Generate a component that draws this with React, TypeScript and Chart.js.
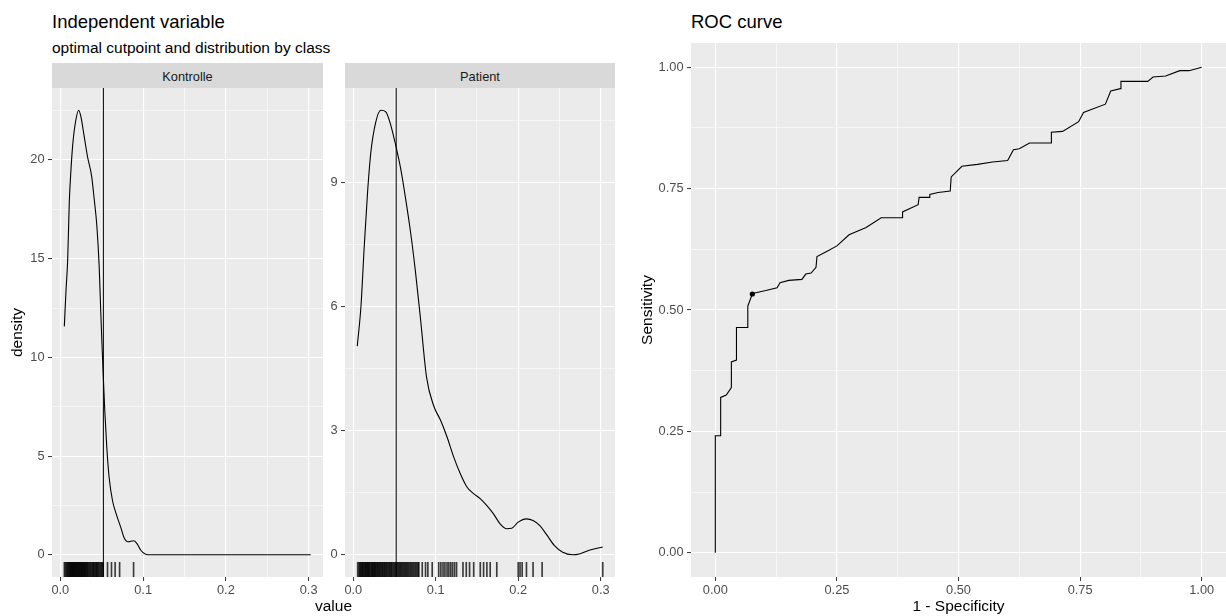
import React, { useEffect, useRef } from 'react';
import { Chart, registerables } from 'chart.js';

Chart.register(...registerables);

const FONT = '"Liberation Sans", Arial, Helvetica, sans-serif';

// ---------------- data ----------------
const classNames = ['Kontrolle', 'Patient'];
const cutpoint = 0.052;

const kontrolleX = [0.0048, 0.0069, 0.0089, 0.0108, 0.0129, 0.0149, 0.0177, 0.0221, 0.0249, 0.0289, 0.0329, 0.0377, 0.0409, 0.0441, 0.0469, 0.0489, 0.0501, 0.0515, 0.0537, 0.0561, 0.0589, 0.063, 0.0669, 0.073, 0.0769, 0.0817, 0.0889, 0.093, 0.097, 0.103, 0.11, 0.15, 0.2, 0.25, 0.3025];
const kontrolleDensity = [11.57, 13.44, 14.97, 17.86, 19.55, 20.74, 21.76, 22.52, 22.18, 21.17, 20.15, 19.21, 18.02, 16.67, 14.63, 12.25, 10.9, 9.4, 7.3, 5.46, 3.94, 2.75, 2.15, 1.39, 0.88, 0.66, 0.71, 0.54, 0.24, 0.03, 0, 0, 0, 0, 0];

const patientX = [0.0048, 0.0093, 0.0133, 0.0173, 0.0213, 0.0273, 0.0334, 0.0394, 0.0454, 0.0514, 0.0575, 0.0635, 0.0695, 0.0755, 0.0816, 0.0888, 0.0976, 0.1057, 0.1137, 0.1217, 0.1298, 0.1378, 0.1458, 0.1539, 0.162, 0.17, 0.178, 0.186, 0.192, 0.2, 0.21, 0.218, 0.226, 0.234, 0.244, 0.254, 0.266, 0.274, 0.286, 0.3025];
const patientDensity = [5.05, 6.02, 7.48, 8.78, 9.75, 10.48, 10.76, 10.72, 10.4, 9.91, 9.34, 8.61, 7.8, 6.83, 5.69, 4.3, 3.6, 3.26, 2.85, 2.37, 1.96, 1.64, 1.48, 1.36, 1.19, 0.99, 0.75, 0.63, 0.64, 0.79, 0.87, 0.83, 0.71, 0.5, 0.22, 0.06, 0.0, 0.02, 0.11, 0.19];

const kontrolleRug = [0.0048, 0.0061, 0.0074, 0.0082, 0.0093, 0.0101, 0.0111, 0.0117, 0.0126, 0.0132, 0.0139, 0.0147, 0.0151, 0.0159, 0.0166, 0.0172, 0.0178, 0.0187, 0.0192, 0.0201, 0.0207, 0.0215, 0.0221, 0.0228, 0.0237, 0.0243, 0.0252, 0.0258, 0.0267, 0.0272, 0.0282, 0.0288, 0.0296, 0.0306, 0.0312, 0.0323, 0.033, 0.0341, 0.0351, 0.0362, 0.0372, 0.0385, 0.0394, 0.0404, 0.0411, 0.0425, 0.0432, 0.0442, 0.0451, 0.0462, 0.0472, 0.0487, 0.0496, 0.0508, 0.0518, 0.057, 0.0618, 0.0662, 0.0716, 0.0885];
const patientRug = [0.0053, 0.0068, 0.0079, 0.0088, 0.0097, 0.0106, 0.0114, 0.0121, 0.0133, 0.0142, 0.0149, 0.0158, 0.0166, 0.0175, 0.0183, 0.0191, 0.0199, 0.0212, 0.0221, 0.0229, 0.0238, 0.0247, 0.0256, 0.0263, 0.0271, 0.0284, 0.0292, 0.0301, 0.0312, 0.0322, 0.0331, 0.0343, 0.0352, 0.0361, 0.0373, 0.0382, 0.0394, 0.0403, 0.0415, 0.0426, 0.0438, 0.0447, 0.0459, 0.0468, 0.0481, 0.0493, 0.0505, 0.0517, 0.0526, 0.0538, 0.0551, 0.0563, 0.0574, 0.0586, 0.0598, 0.0611, 0.0623, 0.0636, 0.0648, 0.0661, 0.0674, 0.0688, 0.0701, 0.0715, 0.0729, 0.0743, 0.0758, 0.0772, 0.0786, 0.0795, 0.0836, 0.0876, 0.0904, 0.0957, 0.1036, 0.1062, 0.1088, 0.1111, 0.1137, 0.1159, 0.1182, 0.1204, 0.1228, 0.1252, 0.133, 0.137, 0.141, 0.146, 0.154, 0.158, 0.162, 0.166, 0.174, 0.2, 0.2022, 0.2048, 0.21, 0.218, 0.229, 0.3025];

const rocFpr = [0, 0, 0.011, 0.011, 0.0225, 0.033, 0.033, 0.0435, 0.0435, 0.0668, 0.0668, 0.0761, 0.081, 0.104, 0.127, 0.133, 0.151, 0.178, 0.186, 0.197, 0.207, 0.209, 0.228, 0.25, 0.275, 0.31, 0.341, 0.384, 0.385, 0.417, 0.419, 0.44, 0.441, 0.458, 0.483, 0.485, 0.507, 0.539, 0.57, 0.601, 0.613, 0.625, 0.646, 0.691, 0.691, 0.714, 0.747, 0.757, 0.802, 0.813, 0.833, 0.834, 0.889, 0.9, 0.926, 0.955, 0.974, 1.0];
const rocTpr = [0, 0.241, 0.241, 0.32, 0.325, 0.34, 0.393, 0.397, 0.464, 0.464, 0.508, 0.533, 0.535, 0.54, 0.546, 0.556, 0.561, 0.563, 0.574, 0.576, 0.588, 0.61, 0.62, 0.632, 0.655, 0.67, 0.69, 0.69, 0.702, 0.717, 0.732, 0.732, 0.738, 0.742, 0.745, 0.774, 0.796, 0.8, 0.805, 0.808, 0.83, 0.832, 0.844, 0.844, 0.866, 0.868, 0.888, 0.907, 0.924, 0.951, 0.956, 0.971, 0.971, 0.98, 0.982, 0.993, 0.993, 1.0];
const optimalFpr = 0.0761;
const optimalTpr = 0.533;

const valueTicks = [0, 0.1, 0.2, 0.3];
const valueMinorTicks = [0.05, 0.15, 0.25];
const kontrolleTicks = [0, 5, 10, 15, 20];
const kontrolleMinorTicks = [2.5, 7.5, 12.5, 17.5, 22.5];
const patientTicks = [0, 3, 6, 9];
const patientMinorTicks = [1.5, 4.5, 7.5, 10.5];
const rocTicks = [0, 0.25, 0.5, 0.75, 1];
const rocMinorTicks = [0.125, 0.375, 0.625, 0.875];

// ---------------- helpers ----------------
const expand = (lo: number, hi: number): [number, number] => [lo - 0.05 * (hi - lo), hi + 0.05 * (hi - lo)];

const allValues = [...kontrolleX, ...patientX, ...kontrolleRug, ...patientRug];
const [xMin, xMax] = expand(Math.min(...allValues), Math.max(...allValues));
const [rocMin, rocMax] = expand(0, 1);

const panelBg = {
  id: 'panelBg',
  beforeDraw(chart: any) {
    const { ctx, chartArea: a } = chart;
    ctx.save();
    ctx.fillStyle = '#EBEBEB';
    ctx.fillRect(a.left, a.top, a.right - a.left, a.bottom - a.top);
    ctx.restore();
  },
};

type AxisSpec = {
  min: number;
  max: number;
  major: number[];
  minor: number[];
  digits: number;
  size: number;
  title?: string;
};

function axis(spec: AxisSpec, horizontal: boolean) {
  const isMajor = (v: number) => spec.major.some((m) => Math.abs(m - v) < 1e-9);
  return {
    type: 'linear',
    min: spec.min,
    max: spec.max,
    bounds: 'data',
    offset: false,
    afterBuildTicks: (scale: any) => {
      scale.ticks = [...spec.major, ...spec.minor].sort((a, b) => a - b).map((v) => ({ value: v }));
    },
    afterFit: (scale: any) => {
      if (horizontal) {
        scale.height = spec.size;
        scale.paddingLeft = 0;
        scale.paddingRight = 0;
      } else {
        scale.width = spec.size;
        scale.paddingTop = 0;
        scale.paddingBottom = 0;
      }
    },
    ticks: {
      autoSkip: false,
      maxRotation: 0,
      minRotation: 0,
      padding: horizontal ? 2 : 3.5,
      color: '#4D4D4D',
      font: { size: 12.8, family: FONT },
      callback: (v: number) => (isMajor(v) ? Number(v).toFixed(spec.digits) : ''),
    },
    grid: {
      color: '#FFFFFF',
      lineWidth: (c: any) => (c.tick && isMajor(c.tick.value) ? 1.1 : 0.55),
      drawTicks: true,
      tickLength: 4,
      tickWidth: 1,
      tickColor: (c: any) => (c.tick && isMajor(c.tick.value) ? '#333333' : 'rgba(0,0,0,0)'),
      offset: false,
    },
    border: { display: false },
    title: spec.title
      ? {
          display: true,
          text: spec.title,
          color: '#000000',
          font: { size: 15.5, family: FONT },
          padding: horizontal ? { top: 0, bottom: 0 } : { top: 8, bottom: 0 },
        }
      : { display: false },
  };
}

const baseOptions = {
  responsive: false,
  animation: false,
  events: [],
  layout: { padding: 0 },
  plugins: { legend: { display: false }, tooltip: { enabled: false }, title: { display: false } },
};

function densityConfig(
  xs: number[],
  ys: number[],
  rug: number[],
  yMajor: number[],
  yMinor: number[],
  yAxisWidth: number,
  yTitle?: string
): any {
  const [yMin, yMax] = expand(Math.min(...ys), Math.max(...ys));
  const rugTop = yMin + 0.03 * (yMax - yMin);
  return {
    type: 'line',
    data: {
      datasets: [
        {
          label: 'cutpoint',
          data: [
            { x: cutpoint, y: yMin },
            { x: cutpoint, y: yMax },
          ],
          borderColor: '#000000',
          borderWidth: 1,
          pointRadius: 0,
          order: 0,
        },
        {
          label: 'density',
          data: xs.map((x, i) => ({ x, y: ys[i] })),
          borderColor: '#000000',
          borderWidth: 1.1,
          pointRadius: 0,
          cubicInterpolationMode: 'monotone',
          order: 1,
        },
        {
          type: 'bar',
          label: 'rug',
          data: rug.map((v) => ({ x: v, y: [yMin, rugTop] })),
          backgroundColor: 'rgba(0,0,0,0.75)',
          borderWidth: 0,
          barThickness: 1,
          order: 2,
        },
      ],
    },
    options: {
      ...baseOptions,
      scales: {
        x: axis({ min: xMin, max: xMax, major: valueTicks, minor: valueMinorTicks, digits: 1, size: 39 }, true),
        y: axis({ min: yMin, max: yMax, major: yMajor, minor: yMinor, digits: 0, size: yAxisWidth, title: yTitle }, false),
      },
    },
    plugins: [panelBg],
  };
}

function rocConfig(): any {
  return {
    type: 'line',
    data: {
      datasets: [
        {
          label: 'optimal',
          data: [{ x: optimalFpr, y: optimalTpr }],
          showLine: false,
          pointRadius: 2.6,
          pointBackgroundColor: '#000000',
          pointBorderWidth: 0,
          order: 0,
        },
        {
          label: 'ROC',
          data: rocFpr.map((x, i) => ({ x, y: rocTpr[i] })),
          borderColor: '#000000',
          borderWidth: 1.1,
          pointRadius: 0,
          order: 1,
        },
      ],
    },
    options: {
      ...baseOptions,
      scales: {
        x: axis({ min: rocMin, max: rocMax, major: rocTicks, minor: rocMinorTicks, digits: 2, size: 39, title: '1 - Specificity' }, true),
        y: axis({ min: rocMin, max: rocMax, major: rocTicks, minor: rocMinorTicks, digits: 2, size: 61, title: 'Sensitivity' }, false),
      },
    },
    plugins: [panelBg],
  };
}

// ---------------- component ----------------
const abs = (s: React.CSSProperties): React.CSSProperties => ({
  position: 'absolute',
  whiteSpace: 'nowrap',
  fontFamily: FONT,
  margin: 0,
  ...s,
});

const stripStyle = (left: number, width: number): React.CSSProperties =>
  abs({
    left,
    top: 63,
    width,
    height: 25,
    boxSizing: 'border-box',
    paddingTop: 3,
    lineHeight: '22px',
    background: '#D9D9D9',
    color: '#1A1A1A',
    fontSize: 12.8,
    textAlign: 'center',
  });

export default function App() {
  const kRef = useRef<HTMLCanvasElement>(null);
  const pRef = useRef<HTMLCanvasElement>(null);
  const rRef = useRef<HTMLCanvasElement>(null);

  useEffect(() => {
    const charts: Chart[] = [];
    if (kRef.current)
      charts.push(new Chart(kRef.current, densityConfig(kontrolleX, kontrolleDensity, kontrolleRug, kontrolleTicks, kontrolleMinorTicks, 52, 'density')));
    if (pRef.current)
      charts.push(new Chart(pRef.current, densityConfig(patientX, patientDensity, patientRug, patientTicks, patientMinorTicks, 22)));
    if (rRef.current) charts.push(new Chart(rRef.current, rocConfig()));
    return () => charts.forEach((c) => c.destroy());
  }, []);

  return (
    <div
      style={{
        position: 'absolute',
        left: 0,
        top: 0,
        width: 1226,
        height: 616,
        overflow: 'hidden',
        background: '#FFFFFF',
        fontFamily: FONT,
      }}
    >
      <div style={abs({ left: 52, top: 12.8, fontSize: 18.5, lineHeight: '18.5px', color: '#000' })}>Independent variable</div>
      <div style={abs({ left: 52, top: 39.6, fontSize: 15.5, lineHeight: '15.5px', color: '#000' })}>
        optimal cutpoint and distribution by class
      </div>
      <div style={stripStyle(52, 271)}>{classNames[0]}</div>
      <div style={stripStyle(345, 270)}>{classNames[1]}</div>
      <canvas ref={kRef} width={323} height={528} style={{ position: 'absolute', left: 0, top: 88, width: 323, height: 528 }} />
      <canvas ref={pRef} width={292} height={528} style={{ position: 'absolute', left: 323, top: 88, width: 292, height: 528 }} />
      <div style={abs({ left: 52, top: 597.9, width: 563, textAlign: 'center', fontSize: 15.5, lineHeight: '15.5px', color: '#000' })}>value</div>

      <div style={abs({ left: 691, top: 12.8, fontSize: 18.5, lineHeight: '18.5px', color: '#000' })}>ROC curve</div>
      <canvas ref={rRef} width={600} height={577} style={{ position: 'absolute', left: 630, top: 39, width: 600, height: 577 }} />
    </div>
  );
}
